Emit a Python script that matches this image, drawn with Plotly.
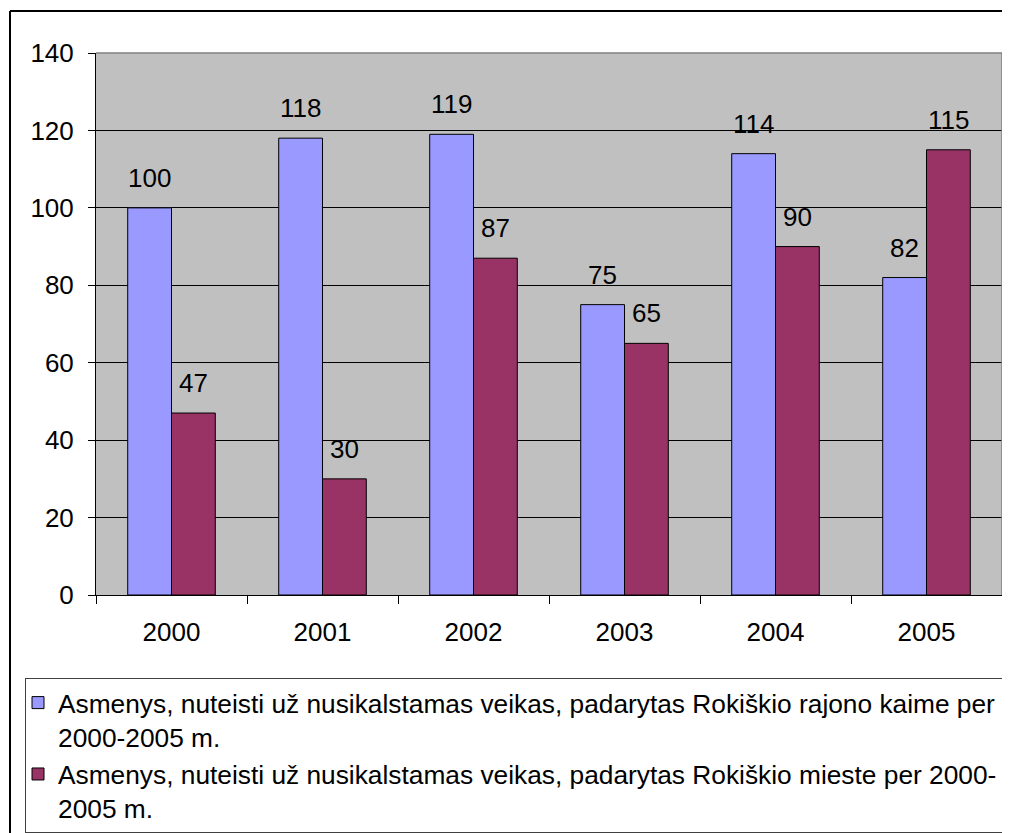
import plotly.graph_objects as go

years = ["2000", "2001", "2002", "2003", "2004", "2005"]
kaime = [100, 118, 119, 75, 114, 82]
mieste = [47, 30, 87, 65, 90, 115]
name_kaime = "Asmenys, nuteisti už nusikalstamas veikas, padarytas Rokiškio rajono kaime per<br>2000-2005 m."
name_mieste = "Asmenys, nuteisti už nusikalstamas veikas, padarytas Rokiškio mieste per 2000-<br>2005 m."
y_ticks = [0, 20, 40, 60, 80, 100, 120, 140]

FONT = "Liberation Sans, Arial, sans-serif"
FS = 26
OFF = 8  # page body margin
W, H = 1010 - OFF, 833 - OFF
L, R, T, B = 96 - OFF, 8, 53 - OFF, 833 - 595
pw, ph = W - L - R, H - T - B

def px_x(p):
    return (p - OFF - L) / pw

def px_y(p):
    return (H - B - (p - OFF)) / ph

fig = go.Figure()
fig.add_trace(go.Bar(x=years, y=kaime, name=name_kaime,
                     marker=dict(color="#9999FF", line=dict(color="black", width=1))))
fig.add_trace(go.Bar(x=years, y=mieste, name=name_mieste,
                     marker=dict(color="#993366", line=dict(color="black", width=1))))

annotations = []
for i, yr in enumerate(years):
    for vals, dx in ((kaime, -22), (mieste, 22)):
        annotations.append(dict(x=i, y=vals[i], xref="x", yref="y", text=str(vals[i]),
                                showarrow=False, xshift=dx, yshift=30, yanchor="middle",
                                font=dict(family=FONT, size=FS, color="black")))

shapes = [
    # outer chart border (top and left edges; right/bottom lie outside the view)
    dict(type="line", xref="paper", yref="paper", x0=px_x(10), x1=px_x(1030),
         y0=px_y(11), y1=px_y(11), line=dict(color="black", width=2), layer="above"),
    dict(type="line", xref="paper", yref="paper", x0=px_x(10), x1=px_x(10),
         y0=px_y(11), y1=px_y(860), line=dict(color="black", width=2), layer="above"),
    # plot area top/right borders
    dict(type="line", xref="paper", yref="paper", x0=0, x1=1, y0=1, y1=1,
         line=dict(color="#808080", width=1.5), layer="above"),
    dict(type="line", xref="paper", yref="paper", x0=1, x1=1, y0=0, y1=1,
         line=dict(color="#808080", width=1.5), layer="above"),
]

fig.update_layout(
    width=W, height=H,
    margin=dict(l=L, r=R, t=T, b=B, autoexpand=False),
    paper_bgcolor="white", plot_bgcolor="#C0C0C0",
    barmode="group", bargap=0.42, bargroupgap=0,
    font=dict(family=FONT, size=FS, color="black"),
    showlegend=True,
    legend=dict(x=px_x(25), y=px_y(678), xanchor="left", yanchor="top",
                orientation="v", valign="top", bgcolor="white",
                bordercolor="#404040", borderwidth=1, indentation=-8,
                font=dict(family=FONT, size=26.3, color="black"),
                traceorder="normal"),
    annotations=annotations,
    shapes=shapes,
)
fig.update_xaxes(type="category", showline=True, linecolor="black", linewidth=1,
                 ticks="outside", tickson="boundaries", ticklen=8, tickcolor="black",
                 showgrid=False, ticklabelstandoff=14,
                 tickfont=dict(family=FONT, size=FS, color="black"))
fig.update_yaxes(range=[0, 140], tickvals=y_ticks, showline=True, linecolor="black",
                 linewidth=1, ticks="outside", ticklen=7, tickcolor="black",
                 showgrid=True, gridcolor="black", gridwidth=1, zeroline=False,
                 ticklabelstandoff=9,
                 tickfont=dict(family=FONT, size=FS, color="black"))

fig.write_html("out.html")
